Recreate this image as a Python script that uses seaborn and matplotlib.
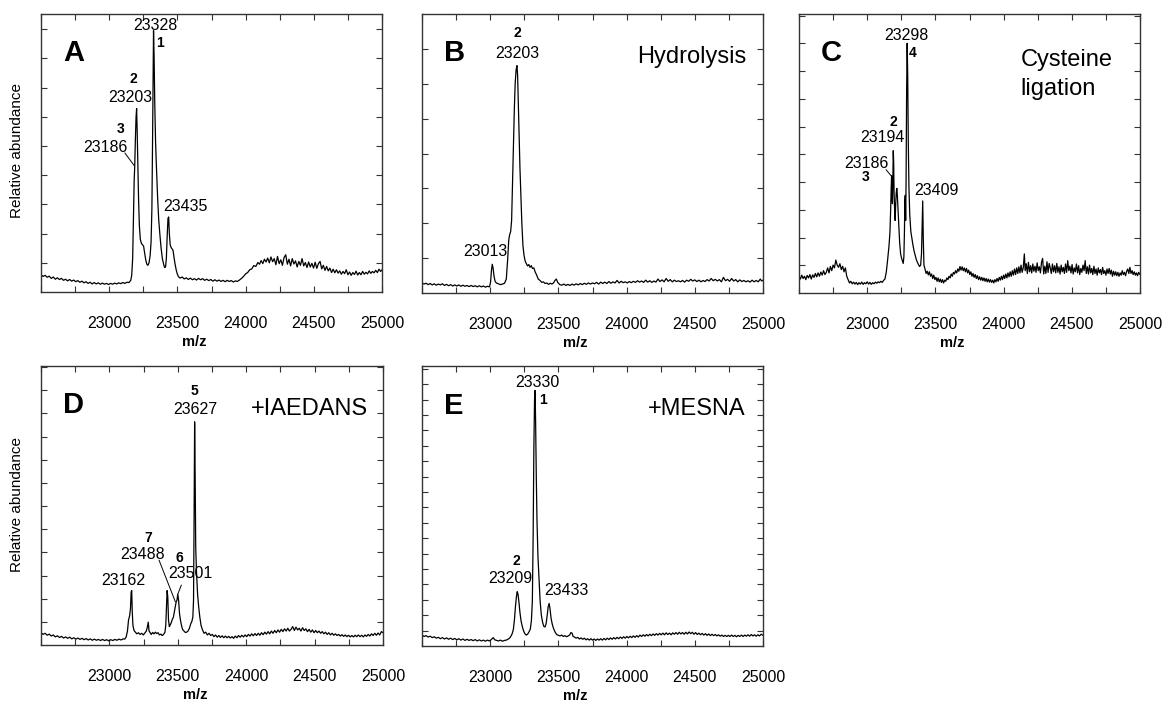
import matplotlib
matplotlib.use("Agg")
import matplotlib.pyplot as plt
import seaborn as sns
import numpy as np

# spectra (m/z, relative abundance in % of axis height)
mz_A = [22500, 22515, 22530, 22545, 22560, 22575, 22590, 22605, 22620, 22635, 22650, 22665, 22680, 22695, 22710, 22725, 22740, 22755, 22770, 22785,
        22800, 22815, 22830, 22845, 22860, 22875, 22890, 22905, 22920, 22935, 22950, 22965, 22980, 22995, 23010, 23025, 23040, 23055, 23070, 23085,
        23100, 23115, 23130, 23145, 23158, 23165, 23172, 23178, 23183, 23187, 23192, 23197, 23201, 23205, 23210, 23215, 23221, 23228, 23236, 23244,
        23252, 23260, 23268, 23276, 23284, 23292, 23300, 23307, 23313, 23318, 23322, 23325, 23329, 23334, 23340, 23347, 23355, 23363, 23371, 23380,
        23390, 23398, 23406, 23413, 23419, 23425, 23431, 23436, 23441, 23447, 23454, 23461, 23468, 23475, 23483, 23491, 23499, 23508, 23520, 23535,
        23550, 23565, 23580, 23595, 23610, 23625, 23640, 23655, 23670, 23685, 23700, 23715, 23730, 23745, 23760, 23775, 23790, 23805, 23820, 23835,
        23850, 23865, 23880, 23895, 23910, 23925, 23940, 23955, 23970, 23985, 24000, 24015, 24030, 24045, 24060, 24075, 24090, 24102, 24114, 24126,
        24138, 24150, 24162, 24174, 24186, 24198, 24210, 24222, 24234, 24246, 24258, 24270, 24282, 24294, 24306, 24318, 24330, 24342, 24354, 24366,
        24378, 24390, 24402, 24414, 24426, 24438, 24450, 24462, 24474, 24486, 24498, 24510, 24522, 24534, 24546, 24558, 24570, 24582, 24594, 24606,
        24618, 24630, 24642, 24654, 24666, 24678, 24690, 24702, 24714, 24726, 24738, 24750, 24762, 24774, 24786, 24798, 24810, 24822, 24834, 24846,
        24858, 24870, 24882, 24894, 24906, 24918, 24930, 24942, 24954, 24966, 24978, 24990, 25000]
ab_A = [6.2, 5.6, 6.0, 5.3, 5.7, 4.9, 5.4, 4.6, 5.1, 4.5, 4.9, 4.2, 4.6, 4.0, 4.5, 3.9, 4.3, 3.7, 4.1, 3.5,
        3.9, 3.3, 3.7, 3.1, 3.5, 2.9, 3.4, 2.9, 3.3, 2.8, 3.2, 2.8, 3.1, 2.7, 3.1, 2.8, 3.2, 2.9, 3.3, 3.0,
        3.4, 3.1, 3.5, 3.4, 4.2, 6.0, 12.0, 28.0, 40.0, 45.0, 55.0, 63.0, 66.0, 58.0, 45.0, 34.0, 24.0, 19.0, 17.5, 17.0,
        16.5, 14.0, 11.5, 10.0, 9.6, 10.5, 13.0, 18.0, 30.0, 55.0, 80.0, 94.0, 85.0, 68.0, 54.0, 44.0, 34.0, 26.0, 21.0, 16.0,
        12.0, 10.2, 8.8, 9.0, 12.0, 20.0, 26.5, 27.0, 21.0, 17.0, 16.0, 15.5, 15.0, 12.5, 10.0, 8.0, 6.5, 5.5, 5.0, 5.4,
        4.7, 5.1, 4.5, 5.0, 4.4, 4.8, 4.3, 4.9, 4.4, 4.8, 4.2, 4.6, 4.1, 4.5, 3.9, 4.4, 3.9, 4.3, 3.8, 4.2,
        3.7, 4.2, 3.8, 4.1, 3.6, 4.0, 3.8, 4.3, 4.9, 5.6, 6.5, 7.0, 8.0, 8.3, 9.5, 9.2, 10.6, 10.0, 11.3, 10.2,
        11.8, 10.8, 12.2, 10.5, 12.6, 10.9, 12.0, 9.8, 12.8, 10.2, 11.6, 9.6, 12.4, 13.4, 10.0, 11.8, 9.4, 12.0, 10.1, 11.2,
        9.0, 11.0, 9.6, 12.0, 9.4, 10.6, 8.8, 10.8, 9.0, 10.3, 8.6, 10.7, 8.5, 10.2, 11.0, 8.3, 9.6, 7.8, 9.2, 7.6,
        8.6, 7.0, 8.2, 6.9, 8.0, 6.8, 7.6, 6.4, 7.4, 6.6, 8.0, 6.2, 7.2, 6.0, 7.0, 6.3, 7.5, 6.1, 7.0, 6.2,
        7.4, 6.4, 7.1, 6.5, 7.6, 6.7, 7.4, 6.9, 7.8, 7.0, 8.2, 7.4, 8.0]

mz_B = [22500, 22515, 22530, 22545, 22560, 22575, 22590, 22605, 22620, 22635, 22650, 22665, 22680, 22695, 22710, 22725, 22740, 22755, 22770, 22785,
        22800, 22815, 22830, 22845, 22860, 22875, 22890, 22905, 22920, 22935, 22950, 22965, 22980, 22995, 23003, 23009, 23015, 23021, 23028, 23036,
        23045, 23060, 23075, 23090, 23105, 23118, 23128, 23136, 23143, 23150, 23157, 23163, 23170, 23177, 23183, 23190, 23196, 23201, 23206, 23212,
        23218, 23225, 23232, 23240, 23248, 23256, 23265, 23274, 23283, 23292, 23301, 23310, 23320, 23330, 23340, 23352, 23365, 23378, 23390, 23402,
        23415, 23428, 23440, 23452, 23464, 23475, 23485, 23495, 23510, 23525, 23540, 23555, 23570, 23585, 23600, 23615, 23630, 23645, 23660, 23675,
        23690, 23705, 23720, 23735, 23750, 23765, 23780, 23795, 23810, 23825, 23840, 23855, 23870, 23885, 23900, 23915, 23930, 23945, 23960, 23975,
        23990, 24005, 24020, 24035, 24050, 24065, 24080, 24095, 24110, 24125, 24140, 24155, 24170, 24185, 24200, 24215, 24230, 24245, 24260, 24275,
        24290, 24305, 24320, 24335, 24350, 24365, 24380, 24395, 24410, 24425, 24440, 24455, 24470, 24485, 24500, 24515, 24530, 24545, 24560, 24575,
        24590, 24605, 24620, 24635, 24650, 24665, 24680, 24695, 24710, 24725, 24740, 24755, 24770, 24785, 24800, 24815, 24830, 24845, 24860, 24875,
        24890, 24905, 24920, 24935, 24950, 24965, 24980, 24990, 25000]
ab_B = [3.6, 3.2, 3.5, 3.0, 3.4, 2.9, 3.3, 2.8, 3.2, 2.9, 3.3, 2.7, 3.1, 2.6, 3.0, 2.5, 2.9, 2.5, 2.9, 2.4,
        2.8, 2.4, 2.7, 2.3, 2.7, 2.3, 2.6, 2.2, 2.6, 2.2, 2.5, 2.1, 2.4, 2.2, 4.0, 8.0, 10.3, 9.0, 6.0, 4.2,
        3.6, 3.3, 3.0, 3.2, 3.5, 5.0, 12.0, 19.0, 21.0, 22.0, 26.0, 38.0, 52.0, 66.0, 75.0, 80.0, 81.5, 78.0, 68.0, 55.0,
        45.0, 35.0, 25.0, 17.0, 13.5, 11.5, 10.5, 9.7, 10.2, 9.2, 9.8, 8.8, 9.0, 7.5, 6.5, 5.0, 4.5, 3.8, 4.0, 3.4,
        3.6, 3.1, 3.5, 3.2, 3.6, 4.5, 5.0, 3.8, 3.0, 2.8, 3.2, 2.7, 3.1, 2.7, 3.2, 2.8, 3.3, 2.9, 3.4, 3.0,
        3.5, 3.1, 3.6, 3.2, 3.6, 3.3, 3.8, 3.2, 3.9, 3.4, 3.9, 3.4, 4.1, 3.5, 4.0, 3.6, 4.5, 3.6, 4.2, 3.7,
        4.0, 3.6, 4.1, 3.7, 4.2, 3.8, 4.4, 3.9, 4.3, 3.8, 4.6, 3.9, 4.4, 3.8, 4.3, 3.9, 5.0, 4.1, 4.7, 4.0,
        5.2, 4.2, 4.8, 4.0, 4.6, 4.1, 4.4, 4.0, 4.5, 3.9, 4.6, 4.2, 4.9, 4.3, 4.7, 4.1, 4.6, 4.0, 4.5, 4.1,
        4.8, 4.3, 5.2, 4.4, 4.9, 4.3, 4.8, 4.0, 5.6, 4.4, 4.9, 4.2, 5.2, 4.3, 4.8, 4.0, 4.7, 4.1, 4.5, 4.0,
        4.4, 3.9, 4.6, 4.0, 4.5, 4.0, 5.0, 4.3, 4.6]

mz_C = [22500, 22510, 22520, 22530, 22540, 22550, 22560, 22570, 22580, 22590, 22600, 22610, 22620, 22630, 22640, 22650, 22660, 22670, 22680, 22690,
        22700, 22710, 22720, 22730, 22740, 22750, 22760, 22770, 22780, 22790, 22800, 22810, 22820, 22830, 22840, 22850, 22860, 22870, 22880, 22890,
        22900, 22910, 22920, 22930, 22940, 22950, 22960, 22970, 22980, 22990, 23000, 23010, 23020, 23030, 23040, 23050, 23060, 23070, 23080, 23090,
        23100, 23110, 23120, 23130, 23140, 23150, 23160, 23167, 23172, 23176, 23179, 23182, 23185, 23188, 23191, 23194, 23197, 23201, 23205, 23209,
        23213, 23217, 23221, 23226, 23232, 23238, 23245, 23252, 23258, 23264, 23269, 23273, 23276, 23279, 23282, 23285, 23289, 23293, 23297, 23301,
        23306, 23312, 23320, 23328, 23336, 23344, 23352, 23360, 23368, 23376, 23384, 23392, 23398, 23403, 23407, 23411, 23416, 23424, 23432, 23440,
        23448, 23456, 23464, 23472, 23480, 23488, 23496, 23504, 23512, 23520, 23528, 23536, 23544, 23552, 23560, 23568, 23576, 23584, 23592, 23600,
        23608, 23616, 23624, 23632, 23640, 23648, 23656, 23664, 23672, 23680, 23688, 23696, 23704, 23712, 23720, 23728, 23736, 23744, 23752, 23760,
        23768, 23776, 23784, 23792, 23800, 23808, 23816, 23824, 23832, 23840, 23848, 23856, 23864, 23872, 23880, 23888, 23896, 23904, 23912, 23920,
        23928, 23936, 23944, 23952, 23960, 23968, 23976, 23984, 23992, 24000, 24008, 24016, 24024, 24032, 24040, 24048, 24056, 24064, 24072, 24080,
        24088, 24096, 24104, 24112, 24120, 24128, 24136, 24144, 24152, 24158, 24166, 24174, 24182, 24190, 24198, 24206, 24214, 24222, 24230, 24238,
        24246, 24254, 24262, 24270, 24278, 24286, 24294, 24302, 24310, 24318, 24326, 24334, 24342, 24350, 24358, 24366, 24374, 24382, 24390, 24398,
        24406, 24414, 24422, 24430, 24438, 24446, 24454, 24462, 24470, 24478, 24486, 24494, 24502, 24510, 24518, 24526, 24534, 24542, 24550, 24558,
        24566, 24574, 24582, 24590, 24598, 24606, 24614, 24622, 24630, 24638, 24646, 24654, 24662, 24670, 24678, 24686, 24694, 24702, 24710, 24718,
        24726, 24734, 24742, 24750, 24758, 24766, 24774, 24782, 24790, 24798, 24806, 24814, 24822, 24830, 24838, 24846, 24854, 24862, 24870, 24878,
        24886, 24894, 24902, 24910, 24918, 24926, 24934, 24942, 24950, 24958, 24966, 24974, 24982, 24990, 25000]
ab_C = [6.0, 5.0, 6.4, 5.2, 6.0, 4.8, 6.3, 5.4, 6.6, 5.0, 6.5, 5.6, 7.0, 5.8, 7.2, 6.0, 7.5, 6.4, 8.0, 6.6,
        7.4, 9.0, 7.2, 9.5, 8.0, 10.0, 9.0, 11.8, 10.0, 9.2, 10.5, 8.4, 9.6, 7.6, 9.0, 6.0, 4.8, 3.6, 4.2, 3.3,
        3.9, 3.2, 3.8, 3.0, 3.7, 3.2, 3.9, 3.1, 3.7, 3.3, 4.0, 3.2, 3.8, 3.1, 3.7, 3.3, 3.9, 3.5, 4.0, 3.7,
        4.2, 3.8, 4.5, 5.0, 7.5, 12.0, 17.0, 22.0, 30.0, 38.0, 42.0, 35.0, 32.0, 40.0, 51.0, 47.0, 36.0, 30.0, 26.0, 32.0,
        36.0, 37.5, 35.0, 30.0, 24.0, 18.0, 14.0, 12.5, 11.5, 10.6, 13.0, 22.0, 33.0, 35.0, 26.0, 40.0, 72.0, 89.5, 78.0, 55.0,
        38.0, 28.0, 22.0, 19.5, 17.0, 15.0, 13.5, 12.0, 11.0, 10.2, 9.5, 10.0, 14.0, 25.0, 33.0, 20.0, 10.0, 8.5, 7.0, 7.8,
        6.5, 7.6, 6.0, 6.8, 5.2, 6.4, 4.8, 5.6, 4.2, 5.4, 4.0, 5.0, 3.8, 4.8, 3.6, 4.6, 4.2, 5.4, 4.8, 6.0,
        5.4, 6.8, 6.0, 7.4, 6.8, 8.0, 7.2, 8.6, 7.8, 9.5, 8.2, 9.4, 8.0, 9.0, 7.6, 8.8, 7.2, 8.2, 6.6, 7.6,
        6.0, 7.0, 5.6, 6.6, 5.2, 6.2, 4.8, 5.8, 4.6, 5.6, 4.4, 5.4, 4.2, 5.2, 4.0, 5.0, 3.9, 4.8, 3.8, 4.6,
        3.6, 4.8, 4.0, 5.2, 4.2, 5.6, 4.6, 6.0, 4.8, 6.4, 5.2, 6.8, 5.4, 7.2, 5.8, 7.6, 6.0, 8.0, 6.4, 8.6,
        6.6, 9.0, 7.0, 9.4, 7.2, 10.0, 7.4, 9.0, 14.0, 8.0, 10.5, 7.0, 11.0, 7.6, 9.8, 7.2, 10.4, 7.8, 9.6, 7.4,
        10.8, 8.0, 9.4, 7.2, 11.0, 12.4, 6.8, 9.6, 7.0, 11.2, 7.4, 10.6, 9.0, 7.0, 10.4, 7.6, 9.8, 7.2, 10.6, 7.4,
        9.4, 6.8, 10.0, 7.6, 9.2, 7.0, 10.4, 7.4, 11.6, 8.0, 9.6, 7.2, 10.2, 6.8, 9.0, 7.6, 10.4, 7.2, 9.8, 6.6,
        8.8, 7.4, 10.0, 8.0, 11.6, 7.0, 9.4, 6.8, 10.0, 7.2, 8.8, 6.6, 9.6, 7.0, 8.6, 6.4, 9.0, 7.2, 8.4, 6.6,
        9.2, 7.0, 8.0, 6.4, 8.6, 7.0, 8.8, 6.8, 8.2, 6.0, 7.8, 6.4, 7.6, 6.2, 7.4, 6.0, 7.2, 6.4, 8.0, 6.6,
        7.4, 6.2, 7.8, 8.6, 7.0, 9.2, 7.0, 8.0, 6.6, 7.6, 6.4, 7.2, 6.2, 7.4, 6.6]

mz_D = [22500, 22515, 22530, 22545, 22560, 22575, 22590, 22605, 22620, 22635, 22650, 22665, 22680, 22695, 22710, 22725, 22740, 22755, 22770, 22785,
        22800, 22815, 22830, 22845, 22860, 22875, 22890, 22905, 22920, 22935, 22950, 22965, 22980, 22995, 23010, 23025, 23040, 23055, 23070, 23085,
        23100, 23112, 23122, 23132, 23140, 23148, 23154, 23159, 23163, 23167, 23172, 23180, 23190, 23200, 23212, 23224, 23236, 23248, 23260, 23270,
        23278, 23284, 23290, 23298, 23306, 23316, 23326, 23336, 23346, 23356, 23366, 23376, 23386, 23396, 23406, 23412, 23418, 23422, 23427, 23432,
        23438, 23445, 23452, 23460, 23468, 23475, 23482, 23488, 23494, 23500, 23506, 23512, 23519, 23527, 23535, 23545, 23555, 23565, 23575, 23585,
        23594, 23603, 23610, 23615, 23619, 23623, 23627, 23631, 23637, 23645, 23653, 23661, 23670, 23680, 23692, 23704, 23716, 23728, 23740, 23752,
        23764, 23776, 23788, 23800, 23812, 23824, 23836, 23848, 23860, 23872, 23884, 23896, 23908, 23920, 23932, 23944, 23956, 23968, 23980, 23992,
        24004, 24016, 24028, 24040, 24052, 24064, 24076, 24088, 24100, 24112, 24124, 24136, 24148, 24160, 24172, 24184, 24196, 24208, 24220, 24232,
        24244, 24256, 24268, 24280, 24292, 24304, 24316, 24328, 24340, 24352, 24364, 24376, 24388, 24400, 24412, 24424, 24436, 24448, 24460, 24472,
        24484, 24496, 24508, 24520, 24532, 24544, 24556, 24568, 24580, 24592, 24604, 24616, 24628, 24640, 24652, 24664, 24676, 24688, 24700, 24712,
        24724, 24736, 24748, 24760, 24772, 24784, 24796, 24808, 24820, 24832, 24844, 24856, 24868, 24880, 24892, 24904, 24916, 24928, 24940, 24952,
        24964, 24976, 24988, 25000]
ab_D = [4.4, 3.8, 4.2, 3.5, 3.9, 3.2, 3.6, 2.9, 3.3, 2.7, 3.1, 2.5, 2.9, 2.4, 2.8, 2.2, 2.6, 2.1, 2.5, 2.0,
        2.4, 1.9, 2.3, 1.8, 2.2, 1.7, 2.1, 1.7, 2.0, 1.6, 2.0, 1.6, 1.9, 1.5, 1.9, 1.6, 2.0, 1.7, 2.1, 1.8,
        2.2, 2.1, 2.8, 5.0, 9.0, 10.5, 13.0, 19.0, 19.5, 12.0, 7.0, 5.2, 4.6, 4.0, 4.4, 3.8, 4.2, 3.6, 4.4, 5.0,
        6.5, 8.2, 5.0, 4.4, 3.8, 4.5, 4.0, 4.6, 4.1, 4.4, 3.6, 3.9, 3.4, 3.8, 4.6, 7.0, 14.0, 19.5, 17.0, 9.0,
        6.6, 7.2, 8.0, 9.2, 10.0, 12.0, 14.0, 15.5, 16.0, 18.3, 16.0, 11.5, 9.0, 7.0, 5.6, 5.0, 4.5, 4.6, 5.0, 6.0,
        7.5, 8.5, 10.0, 16.0, 45.0, 80.0, 60.0, 35.0, 25.7, 18.0, 13.5, 10.0, 7.0, 5.5, 4.2, 4.6, 3.6, 4.2, 3.4, 3.8,
        3.0, 3.6, 2.8, 3.4, 2.7, 3.3, 2.6, 3.2, 2.6, 3.1, 2.5, 3.0, 2.4, 3.2, 2.6, 3.4, 2.8, 3.5, 2.9, 3.6,
        3.0, 3.8, 3.2, 4.0, 3.3, 4.1, 3.4, 4.2, 3.5, 4.4, 3.7, 4.6, 3.9, 4.8, 4.0, 5.0, 4.2, 5.2, 4.4, 5.4,
        4.6, 5.6, 4.8, 5.8, 5.0, 6.0, 5.0, 5.6, 6.6, 5.2, 6.4, 5.4, 6.0, 5.0, 6.2, 5.2, 5.8, 4.8, 5.6, 4.6,
        5.4, 4.4, 5.2, 4.4, 5.0, 4.2, 4.8, 4.0, 4.6, 3.8, 4.4, 3.6, 4.2, 3.5, 4.0, 3.4, 3.8, 3.2, 3.7, 3.1,
        3.6, 3.0, 3.5, 2.9, 3.4, 2.9, 3.5, 3.0, 3.6, 3.0, 3.5, 2.9, 3.6, 3.1, 3.8, 3.2, 4.0, 3.4, 4.2, 3.5,
        4.3, 3.6, 4.8, 4.4]

mz_E = [22500, 22515, 22530, 22545, 22560, 22575, 22590, 22605, 22620, 22635, 22650, 22665, 22680, 22695, 22710, 22725, 22740, 22755, 22770, 22785,
        22800, 22815, 22830, 22845, 22860, 22875, 22890, 22905, 22920, 22935, 22950, 22965, 22980, 22995, 23010, 23022, 23034, 23046, 23060, 23075,
        23090, 23105, 23118, 23130, 23142, 23152, 23162, 23170, 23178, 23185, 23192, 23198, 23204, 23211, 23218, 23226, 23235, 23244, 23254, 23264,
        23274, 23284, 23294, 23302, 23309, 23315, 23320, 23325, 23329, 23333, 23338, 23343, 23350, 23358, 23366, 23375, 23384, 23393, 23402, 23410,
        23418, 23425, 23432, 23438, 23446, 23454, 23462, 23470, 23480, 23490, 23500, 23512, 23524, 23536, 23548, 23560, 23572, 23582, 23592, 23600,
        23608, 23618, 23630, 23642, 23654, 23666, 23678, 23690, 23702, 23714, 23726, 23738, 23750, 23762, 23774, 23786, 23798, 23810, 23822, 23834,
        23846, 23858, 23870, 23882, 23894, 23906, 23918, 23930, 23942, 23954, 23966, 23978, 23990, 24002, 24014, 24026, 24038, 24050, 24062, 24074,
        24086, 24098, 24110, 24122, 24134, 24146, 24158, 24170, 24182, 24194, 24206, 24218, 24230, 24242, 24254, 24266, 24278, 24290, 24302, 24314,
        24326, 24338, 24350, 24362, 24374, 24386, 24398, 24410, 24422, 24434, 24446, 24458, 24470, 24482, 24494, 24506, 24518, 24530, 24542, 24554,
        24566, 24578, 24590, 24602, 24614, 24626, 24638, 24650, 24662, 24674, 24686, 24698, 24710, 24722, 24734, 24746, 24758, 24770, 24782, 24794,
        24806, 24818, 24830, 24842, 24854, 24866, 24878, 24890, 24902, 24914, 24926, 24938, 24950, 24962, 24974, 24986, 25000]
ab_E = [3.9, 3.4, 3.7, 3.2, 3.5, 3.0, 3.3, 2.8, 3.1, 2.6, 3.0, 2.5, 2.9, 2.4, 2.8, 2.3, 2.7, 2.2, 2.6, 2.1,
        2.5, 2.0, 2.4, 2.0, 2.3, 1.9, 2.3, 1.8, 2.2, 1.8, 2.1, 1.7, 2.1, 1.8, 2.4, 3.0, 2.2, 2.0, 1.8, 2.1,
        1.7, 2.0, 2.1, 2.4, 2.8, 3.5, 4.5, 6.0, 9.5, 14.0, 17.5, 19.4, 18.5, 15.5, 12.0, 9.0, 7.0, 5.5, 4.4, 3.9,
        4.2, 5.0, 6.0, 9.0, 16.0, 40.0, 70.0, 88.0, 91.3, 80.0, 60.0, 45.0, 32.0, 24.0, 16.0, 11.0, 8.5, 7.0, 6.8, 8.0,
        11.0, 14.0, 15.2, 13.5, 10.0, 8.0, 6.6, 5.6, 4.6, 4.0, 3.8, 3.6, 3.9, 3.4, 3.7, 3.3, 3.6, 3.9, 4.8, 4.6,
        3.4, 3.2, 2.8, 3.1, 2.5, 2.9, 2.4, 2.8, 2.2, 2.6, 2.1, 2.6, 2.1, 2.5, 2.0, 2.5, 2.1, 2.6, 2.1, 2.7,
        2.2, 2.8, 2.3, 2.9, 2.4, 3.0, 2.5, 3.1, 2.6, 3.2, 2.7, 3.3, 2.8, 3.4, 2.9, 3.5, 3.0, 3.6, 3.1, 3.7,
        3.2, 3.9, 3.4, 4.0, 3.5, 4.1, 3.6, 4.2, 3.7, 4.3, 3.8, 4.4, 3.9, 4.5, 4.0, 4.6, 4.0, 4.7, 4.1, 4.6,
        4.0, 4.7, 4.2, 4.8, 4.2, 4.9, 4.3, 4.8, 4.2, 4.9, 4.3, 5.0, 4.4, 4.9, 4.2, 4.8, 4.1, 4.6, 4.0, 4.5,
        3.9, 4.4, 3.8, 4.3, 3.7, 4.2, 3.7, 4.1, 3.6, 4.0, 3.5, 3.9, 3.4, 3.8, 3.4, 3.8, 3.4, 3.9, 3.4, 3.8,
        3.3, 3.8, 3.4, 3.9, 3.4, 3.9, 3.5, 4.0, 3.5, 4.1, 3.6, 4.0, 3.5, 4.0, 3.6, 4.2, 3.8]

x_major = [23000, 23500, 24000, 24500, 25000]

sns.set_style("ticks")
plt.rcParams["font.family"] = ["Liberation Sans", "DejaVu Sans"]
plt.rcParams["text.color"] = "black"
plt.rcParams["xtick.color"] = "black"
plt.rcParams["ytick.color"] = "black"

W, H = 1169, 704
fig = plt.figure(figsize=(W / 100, H / 100), dpi=100)


def make_ax(left, top, right, bottom):
    return fig.add_axes([left / W, 1 - bottom / H, (right - left) / W, (bottom - top) / H])


def draw(ax, mz, ab, ystep, letter, note=None, note_x=0.95, note_y=0.825, note_ha="right"):
    sns.lineplot(x=mz, y=ab, ax=ax, color="black", linewidth=0.9, estimator=None)
    ax.set_xlim(22500, 25000)
    ax.set_ylim(0, 100)
    ax.set_xticks(x_major)
    ax.set_xticklabels([str(v) for v in x_major], fontsize=11.5)
    ax.set_xticks(np.arange(22500, 25001, 250), minor=True)
    ax.set_yticks(np.arange(ystep, 99.9, ystep))
    ax.set_yticklabels([])
    ax.tick_params(axis="both", which="both", direction="in", top=True, right=True,
                   length=4, width=0.8, color="#333333", labelcolor="black")
    ax.tick_params(axis="x", which="major", pad=17)
    for s in ax.spines.values():
        s.set_linewidth(1.0)
        s.set_color("#333333")
    ax.set_xlabel("m/z", fontsize=10.5, fontweight="bold", color="black")
    ax.xaxis.set_label_coords(0.45, -0.155)
    ax.set_ylabel("")
    ax.text(0.064, 0.83, letter, transform=ax.transAxes, fontsize=21, fontweight="bold",
            ha="left", va="baseline")
    if note:
        for i, line in enumerate(note.split("\n")):
            ax.text(note_x, note_y - i * 0.104, line, transform=ax.transAxes, fontsize=17,
                    ha=note_ha, va="baseline")


def peak_text(ax, x, y, s, bold=False):
    ax.text(x, y, s, fontsize=10 if bold else 11.5, fontweight="bold" if bold else "normal",
            ha="center", va="baseline")


axA = make_ax(41, 14, 382, 292)
axB = make_ax(422, 14, 763, 293)
axC = make_ax(799, 14, 1140, 293)
axD = make_ax(41, 366, 383, 645)
axE = make_ax(422, 366, 763, 646)

draw(axA, mz_A, ab_A, 10.5, "A")
peak_text(axA, 23342, 94.3, "23328")
peak_text(axA, 23371, 88.3, "1", True)
peak_text(axA, 23176, 75.1, "2", True)
peak_text(axA, 23157, 68.5, "23203")
peak_text(axA, 23083, 57.1, "3", True)
peak_text(axA, 22976, 50.5, "23186")
axA.plot([23115, 23183], [50, 45.5], color="black", lw=0.7)
peak_text(axA, 23559, 29, "23435")

draw(axB, mz_B, ab_B, 12.5, "B", "Hydrolysis")
peak_text(axB, 23197, 91.9, "2", True)
peak_text(axB, 23197, 84.4, "23203")
peak_text(axB, 22964, 13.2, "23013")

draw(axC, mz_C, ab_C, 9.94, "C", "Cysteine\nligation", note_x=0.65, note_y=0.815, note_ha="left")
peak_text(axC, 23289, 90.7, "23298")
peak_text(axC, 23333, 84.7, "4", True)
peak_text(axC, 23192, 59.7, "2", True)
peak_text(axC, 23113, 54.3, "23194")
peak_text(axC, 22996, 44.7, "23186")
peak_text(axC, 22991, 40.0, "3", True)
axC.plot([23138, 23179], [44.2, 41.8], color="black", lw=0.7)
peak_text(axC, 23509, 35.2, "23409")

draw(axD, mz_D, ab_D, 8.3, "D", "+IAEDANS", note_x=0.956)
peak_text(axD, 23623, 89.5, "5", True)
peak_text(axD, 23628, 82.9, "23627")
peak_text(axD, 23282, 37.0, "7", True)
peak_text(axD, 23241, 31.0, "23488")
peak_text(axD, 23514, 29.8, "6", True)
peak_text(axD, 23592, 23.9, "23501")
peak_text(axD, 23100, 21.5, "23162")
axD.plot([23363, 23482], [30.4, 15.5], color="black", lw=0.7)
axD.plot([23526, 23502], [21.5, 18.5], color="black", lw=0.7)

draw(axE, mz_E, ab_E, 5.5, "E", "+MESNA")
peak_text(axE, 23346, 92.5, "23330")
peak_text(axE, 23390, 86.6, "1", True)
peak_text(axE, 23195, 28.9, "2", True)
peak_text(axE, 23146, 22.4, "23209")
peak_text(axE, 23561, 18.2, "23433")

fig.text(17 / W, 1 - 150 / H, "Relative abundance", rotation=90, fontsize=11, ha="center", va="center")
fig.text(17 / W, 1 - 505 / H, "Relative abundance", rotation=90, fontsize=11, ha="center", va="center")

fig.savefig("out.png", dpi=100)
